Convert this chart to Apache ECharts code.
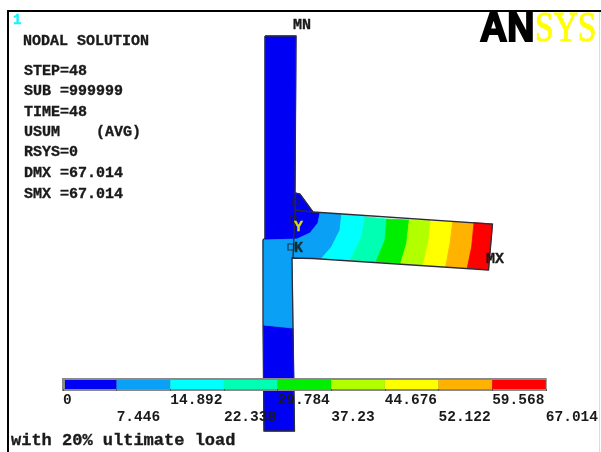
<!DOCTYPE html>
<html><head><meta charset="utf-8">
<style>html,body{margin:0;padding:0;background:#fff}#c{width:601px;height:452px}</style>
<script src="https://cdn.jsdelivr.net/npm/echarts@6/dist/echarts.min.js"></script>
</head><body><div id="c"></div>
<script>
// Contour levels and labels
const levels = [0,7.446,14.892,22.338,29.784,37.23,44.676,52.122,59.568,67.014];
const tickLabels = ['0','7.446','14.892','22.338','29.784','37.23','44.676','52.122','59.568','67.014'];
const bandColors = ['#0000f4','#0aa0f5','#00ffff','#00ffb2','#00ee00','#b2ff00','#ffff00','#ffb200','#ff0000'];

// Model geometry (plot units)
const upperColumn = [[265,36],[296,36],[295,193],[300,194],[313,212],[320,213],[318,223],[310,233],[297,239],[265,240]];
const midRegion = [[263,240],[297,239],[310,233],[318,223],[320,213],[341.7,214.3],[340,230],[331.7,246.7],[321.7,258.3],[292,258],[293,328],[263.5,325]];
const lowerColumn = [[263.5,325],[293,328],[294.5,431],[264,431]];
const armContours = [
  [[341.7,214.3],[340,230],[331.7,246.7],[321.7,258.3]],
  [[365,216.7],[361.7,236.7],[350,260]],
  [[386.7,219],[385,240],[376,261.7]],
  [[409.3,220],[406.7,243.3],[400.7,263.3]],
  [[430.7,220.7],[428.3,243.3],[423.3,265]],
  [[452.7,221.7],[450,243.3],[445.7,266.7]],
  [[474,222.7],[471.7,246.7],[467.3,267.7]],
  [[492.5,224],[488.5,270]]
];
const outline = [[265,36],[296,36],[295,193],[300,194],[313,212],[492.5,224],[488.5,270],[313,258.5],[292,258],[294.5,431],[264,431],[263,325],[263,240],[265,238],[265,36]];
const innerLines = [
  [[295,193],[295,212],[293,258]],
  [[295,210],[313,212]]
];
const nodeMarkers = [[295,202],[293,219],[291,247]];

// Text
const infoLines = ['NODAL SOLUTION','STEP=48','SUB =999999','TIME=48','USUM    (AVG)','RSYS=0','DMX =67.014','SMX =67.014'];
const infoRows = [41,71,91.5,112,132,152.5,173,194];
const caption = 'with 20% ultimate load';

// Build polygon list
const polys = [
  {pts:upperColumn,color:bandColors[0]},
  {pts:lowerColumn,color:bandColors[0]},
  {pts:midRegion,color:bandColors[1]}
];
for(let i=0;i<armContours.length-1;i++){
  polys.push({pts:armContours[i].concat(armContours[i+1].slice().reverse()),color:bandColors[i+2]});
}
const mono='"Liberation Mono",monospace';
const txt=(t,x,y,size,color,extra)=>({type:'text',z:50,x:x,y:y,style:Object.assign({text:t,fill:color||'#1a1a1a',stroke:color||'#1a1a1a',lineWidth:0.35,font:'bold '+size+'px '+mono,textVerticalAlign:'middle'},extra||{})});

const chart=echarts.init(document.getElementById('c'),null,{renderer:'canvas'});
const bandBars=levels.slice(0,-1).map((v,i)=>[v,levels[i+1],i]);
chart.setOption({
  animation:false,
  backgroundColor:'#fff',
  grid:[
    {left:8,top:11,right:0,bottom:0},
    {left:63,top:380,width:484,height:9}
  ],
  xAxis:[
    {gridIndex:0,type:'value',min:8,max:601,position:'top',splitLine:{show:false},axisTick:{show:false},axisLabel:{show:false},z:9,
      axisLine:{show:true,onZero:false,lineStyle:{color:'#000',width:2}}},
    {gridIndex:1,type:'value',min:0,max:67.014,interval:7.446,position:'bottom',splitLine:{show:false},z:20,
      axisLine:{show:false},axisTick:{show:true,length:2,lineStyle:{color:'#555'}},
      axisLabel:{show:true,margin:3,align:'left',alignMinLabel:'left',alignMaxLabel:'left',hideOverlap:false,showMinLabel:true,showMaxLabel:true,
        verticalAlign:'top',lineHeight:17,color:'#1a1a1a',fontFamily:mono,fontWeight:'bold',fontSize:14.5,
        formatter:(v)=>{const i=Math.round(v/7.446);return (i%2?'\n':'')+tickLabels[i];}}}
  ],
  yAxis:[
    {gridIndex:0,type:'value',min:11,max:452,inverse:true,splitLine:{show:false},axisTick:{show:false},axisLabel:{show:false},z:9,
      axisLine:{show:true,onZero:false,lineStyle:{color:'#000',width:2}}},
    {gridIndex:1,type:'value',min:0,max:1,show:false}
  ],
  series:[
    {type:'custom',xAxisIndex:0,yAxisIndex:0,coordinateSystem:'cartesian2d',z:2,silent:true,clip:false,
      data:polys.map((p,i)=>[i]),
      renderItem:(params,api)=>{const p=polys[api.value(0)];
        return {type:'polygon',shape:{points:p.pts.map(q=>api.coord(q))},style:{fill:p.color,stroke:p.color,lineWidth:0.8}};}},
    {type:'custom',xAxisIndex:0,yAxisIndex:0,z:3,silent:true,clip:false,
      data:[outline].concat(innerLines).map((l,i)=>[i]),
      renderItem:(params,api)=>{const l=[outline].concat(innerLines)[api.value(0)];
        return {type:'polyline',shape:{points:l.map(q=>api.coord(q))},style:{fill:null,stroke:'#2b2b3a',lineWidth:1.3}};}},
    {type:'scatter',xAxisIndex:0,yAxisIndex:0,z:4,silent:true,data:nodeMarkers,symbol:'rect',symbolSize:6,
      itemStyle:{color:'rgba(0,0,0,0)',borderColor:'#222',borderWidth:1.2}},
    {type:'custom',xAxisIndex:1,yAxisIndex:1,z:5,silent:true,clip:false,data:[[0,67.014]],
      renderItem:(params,api)=>{const a=api.coord([api.value(0),1]),b=api.coord([api.value(1),0]);
        return {type:'rect',shape:{x:a[0]-1,y:a[1]-2,width:b[0]-a[0]+2,height:b[1]-a[1]+4},style:{fill:'#8a8a8a'}};}},
    {type:'custom',xAxisIndex:1,yAxisIndex:1,z:6,silent:true,clip:false,data:bandBars,
      renderItem:(params,api)=>{const a=api.coord([api.value(0),1]),b=api.coord([api.value(1),0]);
        return {type:'rect',shape:{x:a[0]+(params.dataIndex===0?2:0),y:a[1],width:b[0]-a[0]-(params.dataIndex===0?2:0),height:b[1]-a[1]},style:{fill:bandColors[api.value(2)]}};}}
  ],
  graphic:[
    {type:'line',z:9,shape:{x1:599.5,y1:12,x2:599.5,y2:452},style:{stroke:'#dcdcdc',lineWidth:1}},
    txt('1',13,20,14,'#19f0ff'),
    ...infoLines.map((t,i)=>txt(t,i?24:23,infoRows[i],15)),
    txt(caption,11,441,17),
    txt('MN',293,25,15),
    txt('MX',486,259,15),
    txt('Y',294,227,15,'#d9d916'),
    txt('K',294,248,15,'#10303a'),
    {type:'text',z:50,x:480,y:30,scaleX:0.94,style:{text:'AN',fill:'#000',stroke:'#000',lineWidth:2,font:'bold 40px "Liberation Sans",sans-serif',textVerticalAlign:'middle'}},
    {type:'text',z:50,x:535,y:30,scaleX:0.78,style:{text:'SYS',fill:'#ffff00',stroke:'#ffff00',lineWidth:1,font:'43px "Liberation Serif",serif',textVerticalAlign:'middle'}}
  ]
});
</script></body></html>
